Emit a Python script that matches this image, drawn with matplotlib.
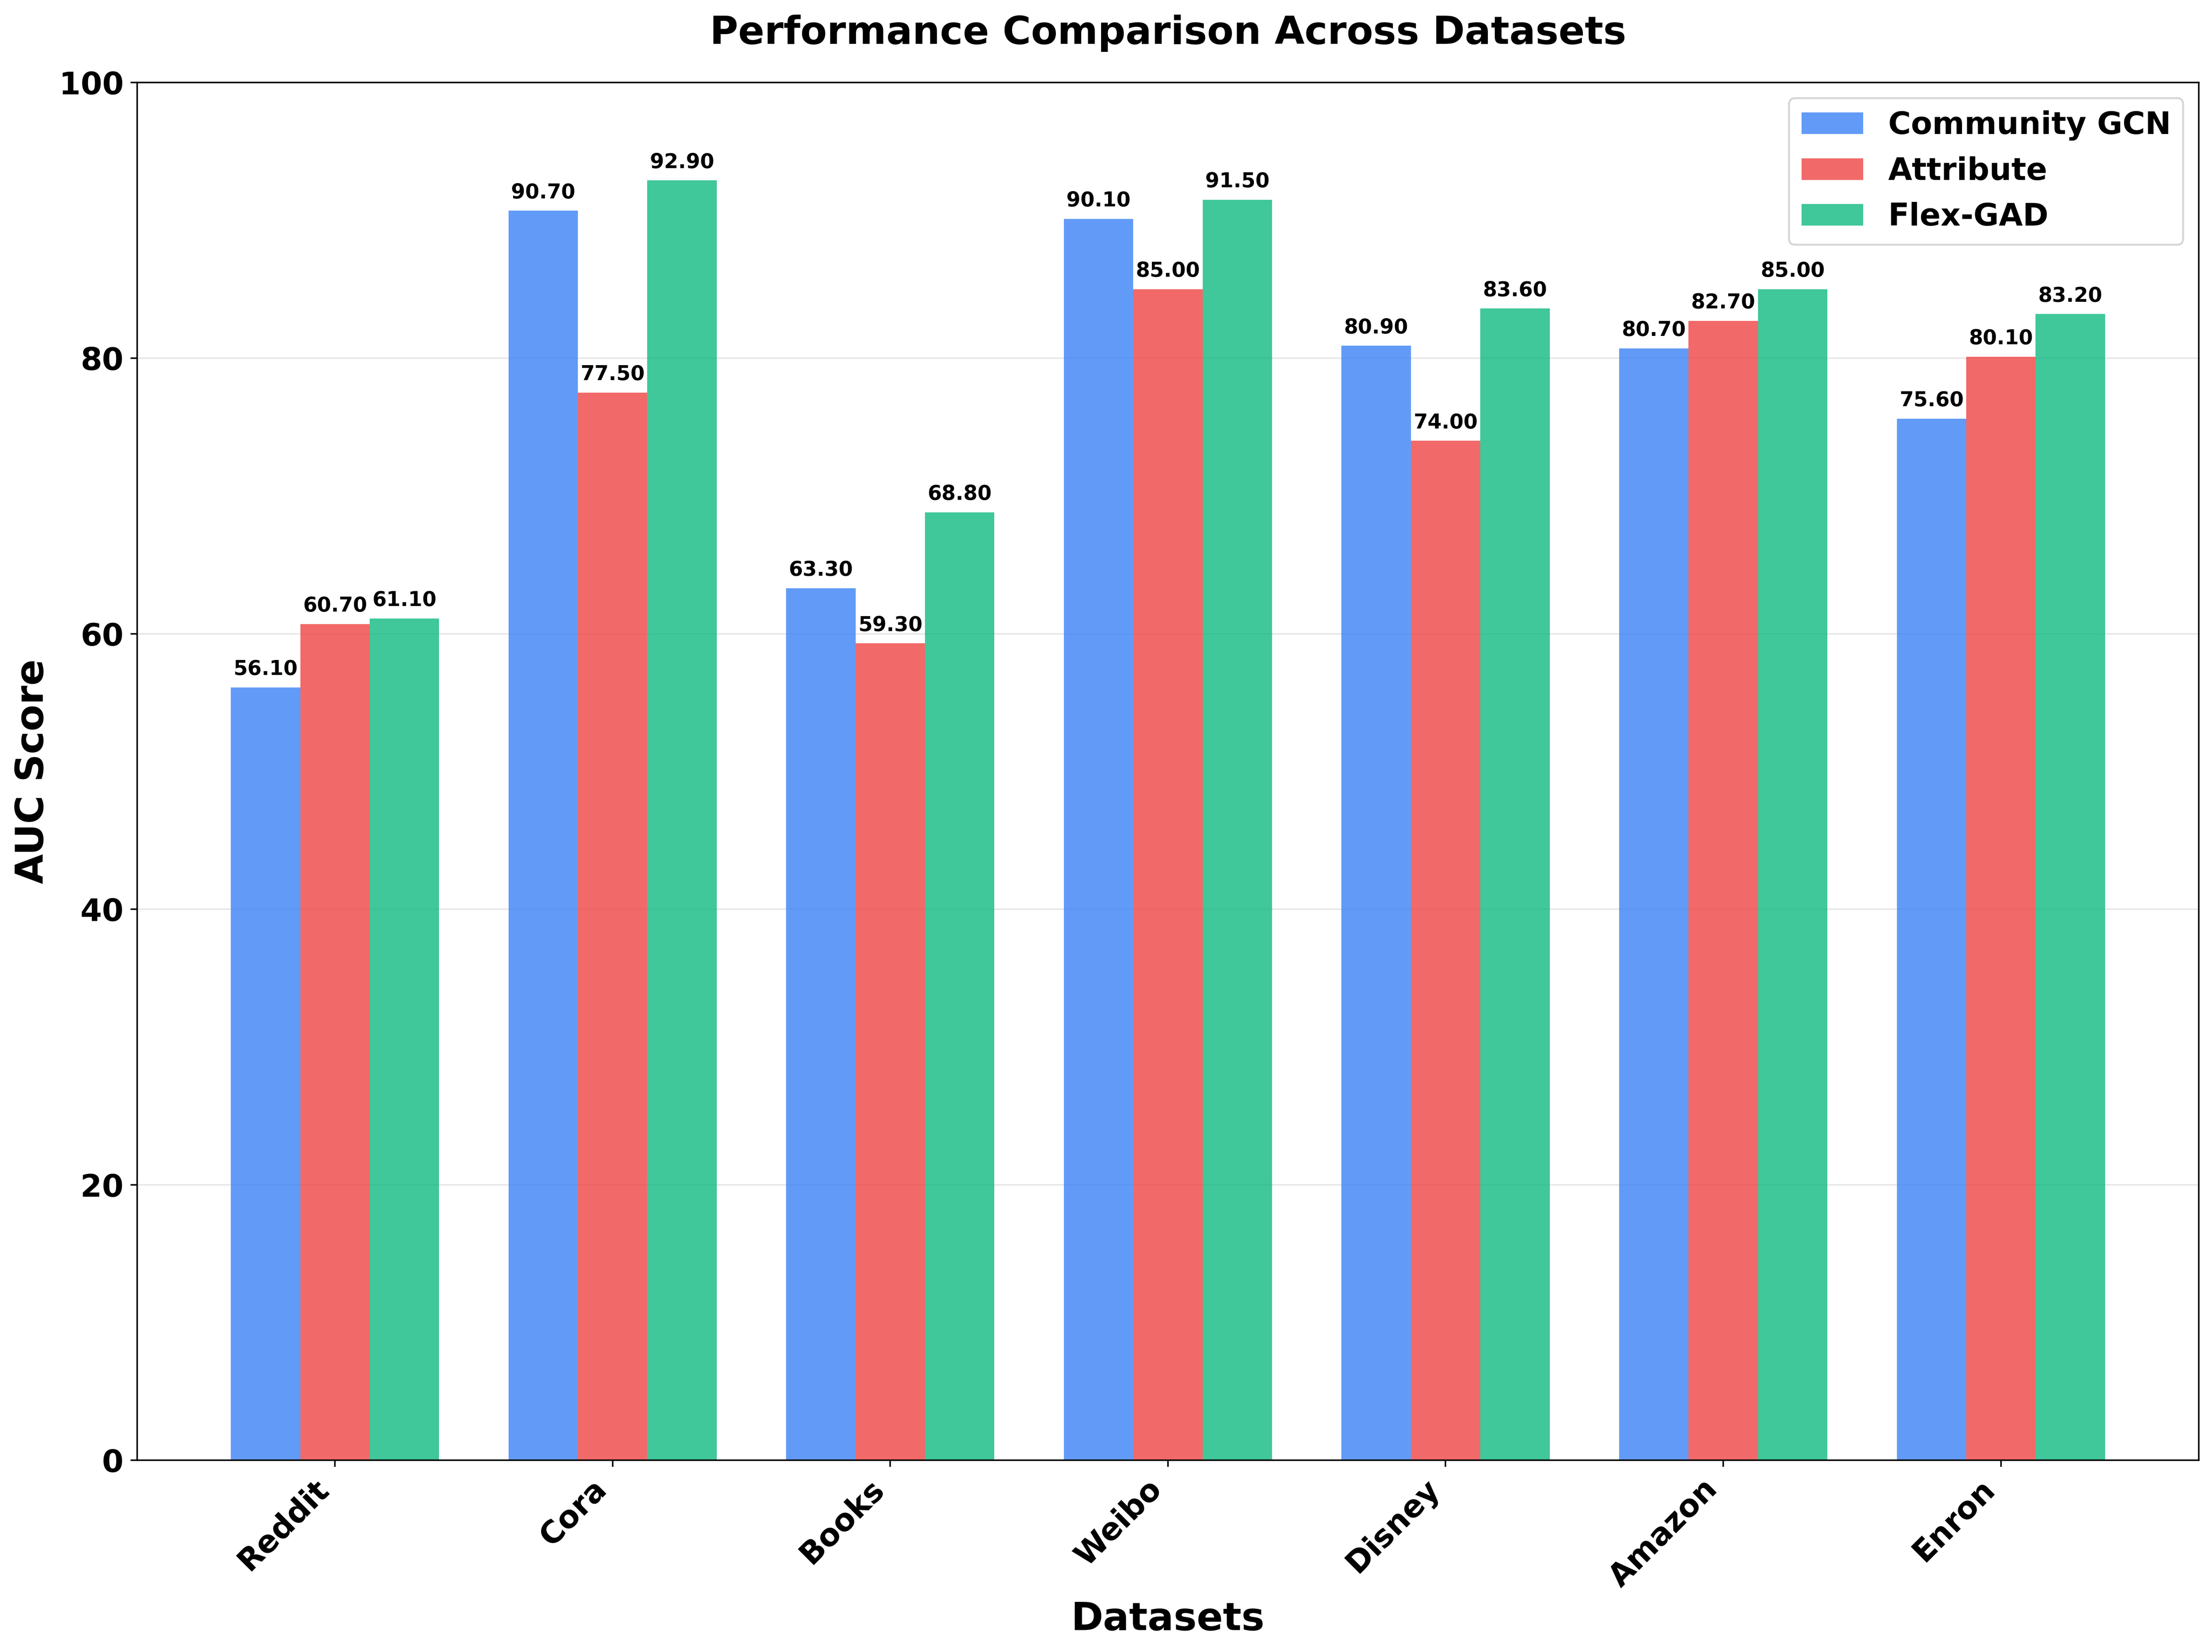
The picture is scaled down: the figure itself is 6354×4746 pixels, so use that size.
import matplotlib
matplotlib.use("Agg")
import matplotlib.pyplot as plt
import numpy as np

datasets = ["Reddit", "Cora", "Books", "Weibo", "Disney", "Amazon", "Enron"]
community_gcn = [56.1, 90.7, 63.3, 90.1, 80.9, 80.7, 75.6]
attribute = [60.7, 77.5, 59.3, 85.0, 74.0, 82.7, 80.1]
flex_gad = [61.1, 92.9, 68.8, 91.5, 83.6, 85.0, 83.2]

series = [
    ("Community GCN", community_gcn, "#3b82f6"),
    ("Attribute", attribute, "#ef4444"),
    ("Flex-GAD", flex_gad, "#10b981"),
]

fig = plt.figure(figsize=(6354 / 400, 4746 / 400), dpi=400)
ax = fig.add_axes([0.062, 0.116, 0.932, 0.834])

x = np.arange(len(datasets))
width = 0.25

for i, (name, vals, color) in enumerate(series):
    bars = ax.bar(x + (i - 1) * width, vals, width, label=name, color=color, alpha=0.8)
    for b, v in zip(bars, vals):
        ax.text(b.get_x() + b.get_width() / 2, v + 0.6, f"{v:.2f}",
                ha="center", va="bottom", fontsize=10.5, fontweight="bold")

ax.set_ylim(0, 100)
ax.set_xticks(x)
ax.set_xticklabels(datasets, rotation=45, ha="right", fontsize=16, fontweight="bold")
ax.tick_params(axis="y", labelsize=16)
for lbl in ax.get_yticklabels():
    lbl.set_fontweight("bold")
ax.set_xlabel("Datasets", fontsize=20, fontweight="bold")
ax.set_ylabel("AUC Score", fontsize=20, fontweight="bold")
ax.set_title("Performance Comparison Across Datasets", fontsize=20, fontweight="bold", pad=20)
ax.yaxis.grid(True, alpha=0.3)
ax.set_axisbelow(True)
ax.legend(prop={"size": 16, "weight": "bold"}, loc="upper right")

fig.savefig("out.png", dpi=400)
